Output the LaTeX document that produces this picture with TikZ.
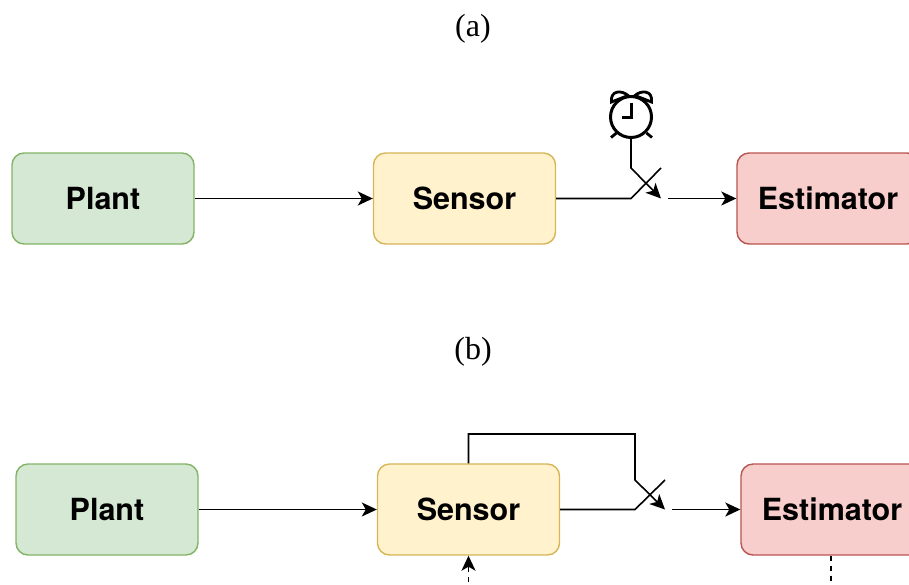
\documentclass[tikz,border=0pt]{standalone}
\usepackage{fontspec}
\setmainfont{TeX Gyre Heros}
\newfontfamily\capfont{Liberation Serif}
\usetikzlibrary{arrows.meta,calc}
\definecolor{gfill}{HTML}{D5E8D4}\definecolor{gline}{HTML}{82B366}
\definecolor{yfill}{HTML}{FFF2CC}\definecolor{yline}{HTML}{D6B656}
\definecolor{rfill}{HTML}{F8CECC}\definecolor{rline}{HTML}{B85450}
\tikzset{
  blockbox/.style={draw,rounded corners=12pt,minimum width=182pt,minimum height=91pt,inner sep=0pt,line width=1.4pt,font=\fontsize{30.5}{36}\selectfont\bfseries,text=black},
  plantbox/.style={blockbox,fill=gfill,draw=gline},
  sensorbox/.style={blockbox,fill=yfill,draw=yline},
  estbox/.style={blockbox,fill=rfill,draw=rline},
  conn/.style={line width=1.6pt,black},
  arr/.style={conn,-{Stealth[length=15pt,width=14pt,inset=4pt]}},
  dashconn/.style={conn,dash pattern=on 5pt off 5pt},
  captext/.style={font=\capfont\fontsize{32}{36}\selectfont,inner sep=0pt},
  clockline/.style={line width=2.8pt,black}
}
\begin{document}
\begin{tikzpicture}[x=1pt,y=-1pt]
\useasboundingbox (0,0) rectangle (909,584);
\clip (0,0) rectangle (909,584);
\node[captext] (capa) at (473,29) {(a)};
\node[captext] (capb) at (473,352) {(b)};
% (a)
\node[plantbox] (p1) at (103,198.5) {\raisebox{0.8pt}{Plant}};
\node[sensorbox] (s1) at (464.5,198.5) {\raisebox{0.8pt}{Sensor}};
\node[estbox] (e1) at (828,198.5) {\raisebox{0.8pt}{Estimator}};
\draw[arr] (p1.east) -- (s1.west);
\coordinate (k1) at (631,198.5);
\coordinate (t1) at (661,168);
\coordinate (h1) at (631,168);
\coordinate (g1) at (661,198.5);
\coordinate (o1) at (668,198.5);
\draw[conn] (s1.east) -- (k1) -- (t1);
\draw[arr] (o1) -- (e1.west);
% clock
\node[circle,draw=black,line width=3pt,minimum size=41pt,inner sep=0pt] (clock) at (631,117) {};
\draw[clockline] (631.5,102.5) -- (631.5,117.5) -- (621.5,117.5);
\draw[clockline] (616.5,133) -- (611,137.5);
\draw[clockline] (646.5,133) -- (652,137.5);
\draw[clockline] (611.5,102) .. controls (610,90) and (622,90) .. (628,95.5) -- cycle;
\draw[clockline] (651.5,102) .. controls (653,90) and (641,90) .. (635,95.5) -- cycle;
\draw[arr] (clock.south) -- (h1) -- (g1);
% (b)
\node[plantbox] (p2) at (107,509.5) {\raisebox{0.8pt}{Plant}};
\node[sensorbox] (s2) at (468.5,509.5) {\raisebox{0.8pt}{Sensor}};
\node[estbox] (e2) at (832,509.5) {\raisebox{0.8pt}{Estimator}};
\draw[arr] (p2.east) -- (s2.west);
\coordinate (k2) at (635,509.5);
\coordinate (t2) at (665,480);
\coordinate (h2) at (635,480);
\coordinate (g2) at (665,509.5);
\coordinate (o2) at (672,509.5);
\coordinate (u2) at (635,434);
\draw[conn] (s2.east) -- (k2) -- (t2);
\draw[arr] (o2) -- (e2.west);
\draw[arr] (s2.north) |- (u2) -- (h2) -- (g2);
\coordinate (d1) at (468.5,592);
\coordinate (d2) at (831,592);
\draw[dashconn,-{Stealth[length=15pt,width=14pt,inset=4pt]}] (d1) -- (s2.south);
\draw[dashconn] (e2.south -| d2) -- (d2);
\end{tikzpicture}
\end{document}
